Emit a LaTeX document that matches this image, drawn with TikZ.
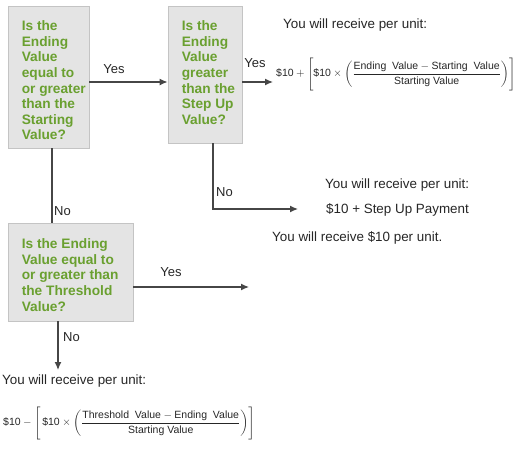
\documentclass[tikz,border=0pt]{standalone}
\usepackage{amsmath}
\usepackage{xcolor}
\usepackage{fontspec}
\setmainfont{Liberation Sans}
\usepackage{tikz}
\usetikzlibrary{calc,arrows.meta}

\definecolor{qgreen}{RGB}{106,160,48}
\definecolor{qfill}{RGB}{228,228,228}
\definecolor{qedge}{RGB}{196,196,196}
\definecolor{lineg}{RGB}{70,70,70}

\begin{document}
\begin{tikzpicture}[x=1pt, y=-1pt, >={Latex[length=8pt,width=7pt]},
        qbox/.style={draw=qedge, fill=qfill, line width=0.8pt, inner sep=0pt},
        qtext/.style={anchor=north west, inner sep=0pt, align=left, text=qgreen,
            font=\fontsize{13.7}{15.6}\selectfont\bfseries},
        flow/.style={draw=lineg, line width=1.3pt},
        lbl/.style={inner sep=0pt, text=black!85, font=\fontsize{13}{15}\selectfont},
        res/.style={anchor=west, inner sep=0pt, text=black!85, font=\fontsize{13.4}{16}\selectfont},
        frm/.style={anchor=west, inner sep=0pt, text=black!85, font=\fontsize{10.5}{12}\selectfont}]

        \useasboundingbox (0,0) rectangle (516,448);

        % The three question boxes
        \node[qbox, minimum width=81pt, minimum height=142pt] (q1) at (48.5,77) {};
        \node[qtext] (q1t) at ($(q1.north west)+(14,15)$)
            {Is the\\Ending\\Value\\equal to\\or greater\\than the\\Starting\\Value?};

        \node[qbox, minimum width=74pt, minimum height=137pt] (q2) at (205,74.5) {};
        \node[qtext] (q2t) at ($(q2.north west)+(14,15)$)
            {Is the\\Ending\\Value\\greater\\than the\\Step Up\\Value?};

        \node[qbox, minimum width=125pt, minimum height=98pt] (q3) at (70.5,272) {};
        \node[qtext] (q3t) at ($(q3.north west)+(14,16)$)
            {Is the Ending\\Value equal to\\or greater than\\the Threshold\\Value?};

        % What you receive
        \node[res] (res1) at (283,25) {You will receive per unit:};
        \node[frm] (pay1) at (276,74)
            {$\text{\$10} + \Biggl[\text{\$10}\times\left(\dfrac{\text{Ending\ \ Value} - \text{Starting\ \ Value}}{\text{Starting\ Value}}\right)\Biggr]$};

        \node[res] (res2) at (325,185) {You will receive per unit:};
        \node[res] (pay2) at (326,210) {\$10 + Step Up Payment};

        \node[res] (res3) at (272,238) {You will receive \$10 per unit.};

        \node[res] (res4) at (2,381) {You will receive per unit:};
        \node[frm] (pay4) at (3,423)
            {$\text{\$10} - \Biggl[\,\text{\$10}\times\left(\dfrac{\text{Threshold\ \ Value} - \text{Ending\ \ Value}}{\text{Starting\ Value}}\right)\Biggr]$};

        % Box 1: Yes to box 2, No down to box 3
        \coordinate (y1) at (0,82);
        \draw[flow, ->] (q1.east |- y1) -- (q2.west |- y1);
        \node[lbl] (yes1) at (114,69) {Yes};
        \coordinate (n1) at (52,0);
        \draw[flow] (q1.south -| n1) -- (q3.north -| n1);
        \node[lbl, anchor=west] (no1) at (54,211) {No};

        % Box 2: Yes to the formula, No to the step up payment
        \draw[flow, ->, shorten >=3pt] (q2.east |- y1) -- (pay1.west |- y1);
        \node[lbl] (yes2) at (255,63) {Yes};
        \coordinate (n2) at (213,209);
        \coordinate (n2end) at (298,209);
        \draw[flow, ->] (q2.south -| n2) -- (n2) -- (n2end);
        \node[lbl, anchor=west] (no2) at (216,192) {No};

        % Box 3: Yes to the right, No down to the formula
        \coordinate (y3) at (249,287);
        \draw[flow, ->] (q3.east |- y3) -- (y3);
        \node[lbl] (yes3) at (171,272) {Yes};
        \coordinate (n3) at (58,370);
        \draw[flow, ->] (q3.south -| n3) -- (n3);
        \node[lbl, anchor=west] (no3) at (63,337) {No};

\end{tikzpicture}
\end{document}
